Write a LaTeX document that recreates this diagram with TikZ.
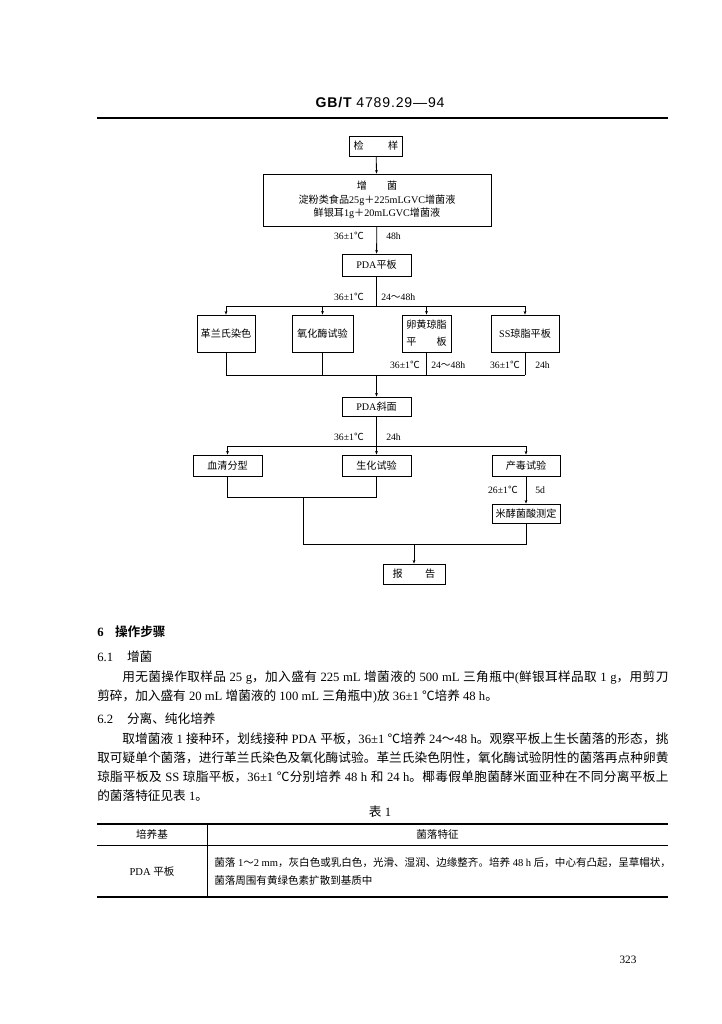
\documentclass[tikz,border=0pt]{standalone}
\usepackage{fontspec}
\setmainfont{Liberation Serif}
\newfontfamily\hdfont[LetterSpace=6]{Liberation Sans}
\newfontfamily\cjkfont{Noto Sans CJK SC}[BoldFont={Noto Sans CJK SC Bold}]
\usetikzlibrary{arrows.meta,positioning}

% Schriftwechsel fuer chinesische Zeichen
\chardef\cjkcls=9
\newcount\cjkcnt
\newcommand\setcjkrange[2]{\cjkcnt=#1\relax
  \loop\XeTeXcharclass\cjkcnt=\cjkcls\relax
  \advance\cjkcnt by 1\relax
  \ifnum\cjkcnt<#2\relax\repeat}
\setcjkrange{"3000}{"3040}
\setcjkrange{"4E00}{"A000}
\setcjkrange{"FF00}{"FFF0}
\XeTeXcharclass"2103=\cjkcls
\XeTeXinterchartoks 0 \cjkcls = {\cjkfont}
\XeTeXinterchartoks 4095 \cjkcls = {\cjkfont}
\XeTeXinterchartoks \cjkcls 0 = {\rmfamily}
\XeTeXinterchartoks \cjkcls 4095 = {\rmfamily}
\XeTeXinterchartoks \cjkcls \cjkcls = {\hskip 0pt plus 1pt minus 0.5pt\relax}
\XeTeXinterchartokenstate=1

\tikzset{
  fbox/.style={draw, line width=0.6pt, inner sep=1pt, align=center, font=\fontsize{7.2}{9}\selectfont},
  flbl/.style={inner sep=0pt, font=\fontsize{6.9}{8}\selectfont},
  conn/.style={line width=0.6pt},
  txt/.style={inner sep=0pt, anchor=base west, font=\fontsize{9}{12}\selectfont},
  tbl/.style={inner sep=0pt, font=\fontsize{7.5}{9}\selectfont}
}

\begin{document}
\begin{tikzpicture}[x=0.025cm,y=-0.025cm,>={Stealth[length=2.6pt,width=2pt]}]
\fill[white] (0,0) rectangle (722,1024);
\useasboundingbox (0,0) rectangle (722,1024);

% Kopfzeile
\node[inner sep=0pt, font=\hdfont\fontsize{10}{12}\selectfont] (kopf) at (380,103) {{\bfseries GB/T} 4789.29—94};
\draw[line width=1pt] (97,118) -- (668,118);

% Ablaufschema
\node[fbox, minimum width=1.325cm, minimum height=0.5cm] (jianyang) at (376,146) {检\hspace{2.4em}样};
\node[fbox, minimum width=5.7cm, minimum height=1.3cm] (zengjun) at (377,200)
  {增\hspace{2em}菌\\[1pt]淀粉类食品25g＋225mLGVC增菌液\\鲜银耳1g＋20mLGVC增菌液};
\node[fbox, minimum width=1.725cm, minimum height=0.55cm] (pdaplate) at (376.5,265) {PDA平板};

\node[fbox, minimum width=1.45cm, minimum height=0.925cm] (gelan) at (226,333.5) {革兰氏染色};
\node[fbox, minimum width=1.525cm, minimum height=0.925cm] (yanghua) at (322.5,333.5) {氧化酶试验};
\node[fbox, minimum width=1.225cm, minimum height=0.925cm] (luanhuang) at (426.5,333.5) {卵黄琼脂\\[3pt]平\hspace{2em}板};
\node[fbox, minimum width=1.7cm, minimum height=0.925cm] (ssplate) at (525,333.5) {SS琼脂平板};

\node[fbox, minimum width=1.725cm, minimum height=0.475cm] (pdaxie) at (376.5,406.5) {PDA斜面};

\node[fbox, minimum width=1.725cm, minimum height=0.525cm] (xueqing) at (227.5,465.5) {血清分型};
\node[fbox, minimum width=1.725cm, minimum height=0.525cm] (shenghua) at (376.5,465.5) {生化试验};
\node[fbox, minimum width=1.7cm, minimum height=0.525cm] (chandu) at (526,465.5) {产毒试验};
\node[fbox, minimum width=1.7cm, minimum height=0.475cm] (mijiao) at (526,513.5) {米酵菌酸测定};

\node[fbox, minimum width=1.55cm, minimum height=0.5cm] (baogao) at (414,574) {报\hspace{2.2em}告};

% Verbindungen
\coordinate (s1) at (376.5,306);
\coordinate (s2) at (376.5,375);
\coordinate (s3) at (376.5,446);
\coordinate (s4) at (303,497);
\coordinate (s5) at (303,544);

\draw[conn,->] (jianyang) -- (zengjun);
\draw[conn,->] (zengjun) -- (pdaplate);
\draw[conn] (pdaplate) -- (s1);
\draw[conn] (gelan.north |- s1) -- (ssplate.north |- s1);
\foreach \n in {gelan,yanghua,luanhuang,ssplate}
  \draw[conn,->] (\n.north |- s1) -- (\n.north);
\draw[conn] (gelan.south |- s2) -- (ssplate.south |- s2);
\foreach \n in {gelan,yanghua,luanhuang,ssplate}
  \draw[conn] (\n.south) -- (\n.south |- s2);
\draw[conn,->] (s2) -- (pdaxie);
\draw[conn] (pdaxie) -- (s3);
\draw[conn] (xueqing.north |- s3) -- (chandu.north |- s3);
\foreach \n in {xueqing,shenghua,chandu}
  \draw[conn,->] (\n.north |- s3) -- (\n.north);
\draw[conn,->] (chandu) -- (mijiao);
\draw[conn] (xueqing.south) |- (shenghua.south |- s4) -- (shenghua.south);
\draw[conn] (s4) -- (s5) -- (mijiao.south |- s5) -- (mijiao.south);
\draw[conn,->] (baogao.north |- s5) -- (baogao.north);

% Bedingungen
\node[flbl, anchor=east] (b1l) at (364,236) {36±1℃};
\node[flbl, anchor=west] (b1r) at (386,236) {48h};
\node[flbl, anchor=east] (b2l) at (364,297) {36±1℃};
\node[flbl, anchor=west] (b2r) at (381,297) {24～48h};
\node[flbl, anchor=east] (b3l) at (420,365) {36±1℃};
\node[flbl, anchor=west] (b3r) at (431,365) {24～48h};
\node[flbl, anchor=east] (b4l) at (520,365) {36±1℃};
\node[flbl, anchor=west] (b4r) at (535,365) {24h};
\node[flbl, anchor=east] (b5l) at (364,437) {36±1℃};
\node[flbl, anchor=west] (b5r) at (386,437) {24h};
\node[flbl, anchor=east] (b6l) at (518,490) {26±1℃};
\node[flbl, anchor=west] (b6r) at (535,490) {5d};

% Text
\node[txt, font=\fontsize{9}{12}\selectfont\bfseries] (h6) at (97,636) {6\hspace{0.9em}操作步骤};
\node[txt] (h61) at (97,661) {6.1\hspace{1.1em}增菌};
\node[txt] (p1a) at (122,681) {\hbox to 13.65cm{用无菌操作取样品 25 g，加入盛有 225 mL 增菌液的 500 mL 三角瓶中(鲜银耳样品取 1 g，用剪刀}};
\node[txt] (p1b) at (97,700) {剪碎，加入盛有 20 mL 增菌液的 100 mL 三角瓶中)放 36±1 ℃培养 48 h。};
\node[txt] (h62) at (97,723) {6.2\hspace{1.1em}分离、纯化培养};
\node[txt] (p2a) at (122,743) {\hbox to 13.65cm{取增菌液 1 接种环，划线接种 PDA 平板，36±1 ℃培养 24～48 h。观察平板上生长菌落的形态，挑}};
\node[txt] (p2b) at (97,762) {\hbox to 14.275cm{取可疑单个菌落，进行革兰氏染色及氧化酶试验。革兰氏染色阴性，氧化酶试验阴性的菌落再点种卵黄}};
\node[txt] (p2c) at (97,781) {\hbox to 14.275cm{琼脂平板及 SS 琼脂平板，36±1 ℃分别培养 48 h 和 24 h。椰毒假单胞菌酵米面亚种在不同分离平板上}};
\node[txt] (p2d) at (97,800) {的菌落特征见表 1。};

% Tabelle 1
\node[inner sep=0pt, font=\fontsize{9}{12}\selectfont] (tab) at (380,812) {表 1};
\draw[line width=1pt] (97,824) -- (668,824);
\draw[line width=0.5pt] (97,845) -- (668,845);
\draw[line width=1pt] (97,897) -- (668,897);
\draw[line width=0.6pt] (207,824) -- (207,897);
\node[tbl] (th1) at (152,834.5) {培养基};
\node[tbl] (th2) at (437.5,834.5) {菌落特征};
\node[tbl] (td1) at (152,871) {PDA 平板};
\node[tbl, anchor=base west] (td2a) at (214,866) {菌落 1～2 mm，灰白色或乳白色，光滑、湿润、边缘整齐。培养 48 h 后，中心有凸起，呈草帽状，};
\node[tbl, anchor=base west] (td2b) at (214,884) {菌落周围有黄绿色素扩散到基质中};

% Seitenzahl
\node[inner sep=0pt, font=\fontsize{8}{10}\selectfont] (seite) at (628,960) {323};
\end{tikzpicture}
\end{document}
